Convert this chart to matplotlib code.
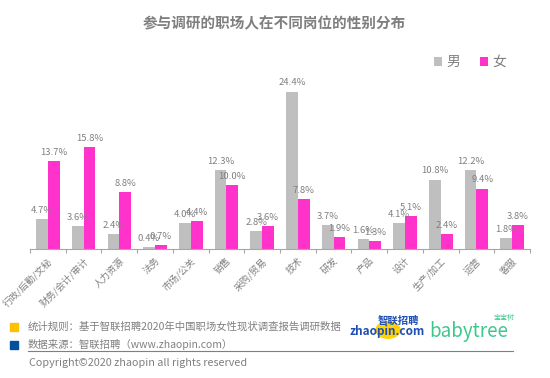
import matplotlib
matplotlib.use("Agg")
import matplotlib.pyplot as plt
from matplotlib.patches import Rectangle, Circle
import numpy as np

plt.rcParams['font.family'] = ['Noto Sans CJK SC', 'DejaVu Sans']

categories = ["行政/后勤/文秘", "财务/会计/审计", "人力资源", "法务", "市场/公关", "销售",
              "采购/贸易", "技术", "研发", "产品", "设计", "生产/加工", "运营", "客服"]
male = [4.7, 3.6, 2.4, 0.4, 4.0, 12.3, 2.8, 24.4, 3.7, 1.6, 4.1, 10.8, 12.2, 1.8]
female = [13.7, 15.8, 8.8, 0.7, 4.4, 10.0, 3.6, 7.8, 1.9, 1.3, 5.1, 2.4, 9.4, 3.8]

GRAY = "#BFBFBF"
PINK = "#FF33CC"
TXT = "#808080"

W, H = 550, 378
fig = plt.figure(figsize=(5.5, 3.78), dpi=100)

def fx(x): return x / W
def fy(y): return 1 - y / H

ax = fig.add_axes([fx(30), fy(249.3), fx(500), fy(80) - fy(249.3)])
x = np.arange(len(categories)) + 0.5
bw = 0.33
ax.bar(x - bw / 2, male, width=bw, color=GRAY, label="男")
ax.bar(x + bw / 2, female, width=bw, color=PINK, label="女")
for xi, m, f in zip(x, male, female):
    ax.annotate(f"{m:.1f}%", (xi - bw / 2, m), xytext=(0, 3), textcoords="offset points",
                ha="center", va="bottom", fontsize=6.8, color=TXT)
    ax.annotate(f"{f:.1f}%", (xi + bw / 2, f), xytext=(0, 3), textcoords="offset points",
                ha="center", va="bottom", fontsize=6.8, color=TXT)

ax.set_xlim(0, len(categories))
ax.set_ylim(0, 26.2)
for s in ["top", "right", "left"]:
    ax.spines[s].set_visible(False)
ax.spines["bottom"].set_color("#A6A6A6")
ax.set_yticks([])
ax.set_xticks(np.arange(len(categories) + 1))
ax.set_xticklabels([])
ax.tick_params(axis="x", which="major", length=3, color="#A6A6A6")
ax.set_xticks(x, minor=True)
ax.set_xticklabels(categories, minor=True, rotation=45, ha="right", va="top",
                   rotation_mode="anchor", fontsize=6.8, color=TXT)
ax.tick_params(axis="x", which="minor", length=0, pad=5)

handles, labels = ax.get_legend_handles_labels()
fig.legend(handles, labels, loc="center left", bbox_to_anchor=(fx(434), fy(62)), ncol=2,
           frameon=False, fontsize=10, handlelength=0.6, handleheight=0.6,
           handletextpad=0.3, columnspacing=1.4, labelcolor=TXT, borderaxespad=0, borderpad=0)

fig.text(fx(274), fy(23), "参与调研的职场人在不同岗位的性别分布", ha="center", va="center",
         fontsize=10.5, fontweight="bold", color="#7F7F7F")

# footer
fig.patches.append(Rectangle((fx(10), fy(331)), fx(8), fy(323) - fy(331), transform=fig.transFigure,
                             color="#FFC000"))
fig.patches.append(Rectangle((fx(10), fy(349)), fx(8), fy(341) - fy(349), transform=fig.transFigure,
                             color="#0050A0"))
fig.text(fx(28), fy(327), "统计规则：基于智联招聘2020年中国职场女性现状调查报告调研数据",
         ha="left", va="center", fontsize=7.5, color=TXT)
fig.text(fx(28), fy(345), "数据来源：智联招聘（www.zhaopin.com）",
         ha="left", va="center", fontsize=7.5, color=TXT)
fig.add_artist(plt.Line2D([fx(28), fx(513)], [fy(350.7), fy(350.7)], transform=fig.transFigure,
                          color="#7F7F7F", lw=0.8))
fig.text(fx(29), fy(363), "Copyright©2020 zhaopin all rights reserved",
         ha="left", va="center", fontsize=7.8, color=TXT)

# logos as text
fig.patches.append(Circle((fx(388), fy(330)), 12 / W, transform=fig.transFigure, color="#FFD200"))
fig.text(fx(349), fy(332), "zhaopin.com", ha="left", va="center", fontsize=8.5,
         fontweight="bold", style="italic", color="#1F4FB4")
fig.text(fx(378), fy(321), "智联招聘", ha="left", va="center", fontsize=7.5,
         fontweight="bold", style="italic", color="#1F4FB4")
fig.text(fx(429), fy(331), "babytree", ha="left", va="center", fontsize=13.5,
         color="#3CC88C")
fig.text(fx(494), fy(318), "宝宝树", ha="left", va="center", fontsize=5, color="#3CC88C")

fig.savefig("out.png", dpi=100)
